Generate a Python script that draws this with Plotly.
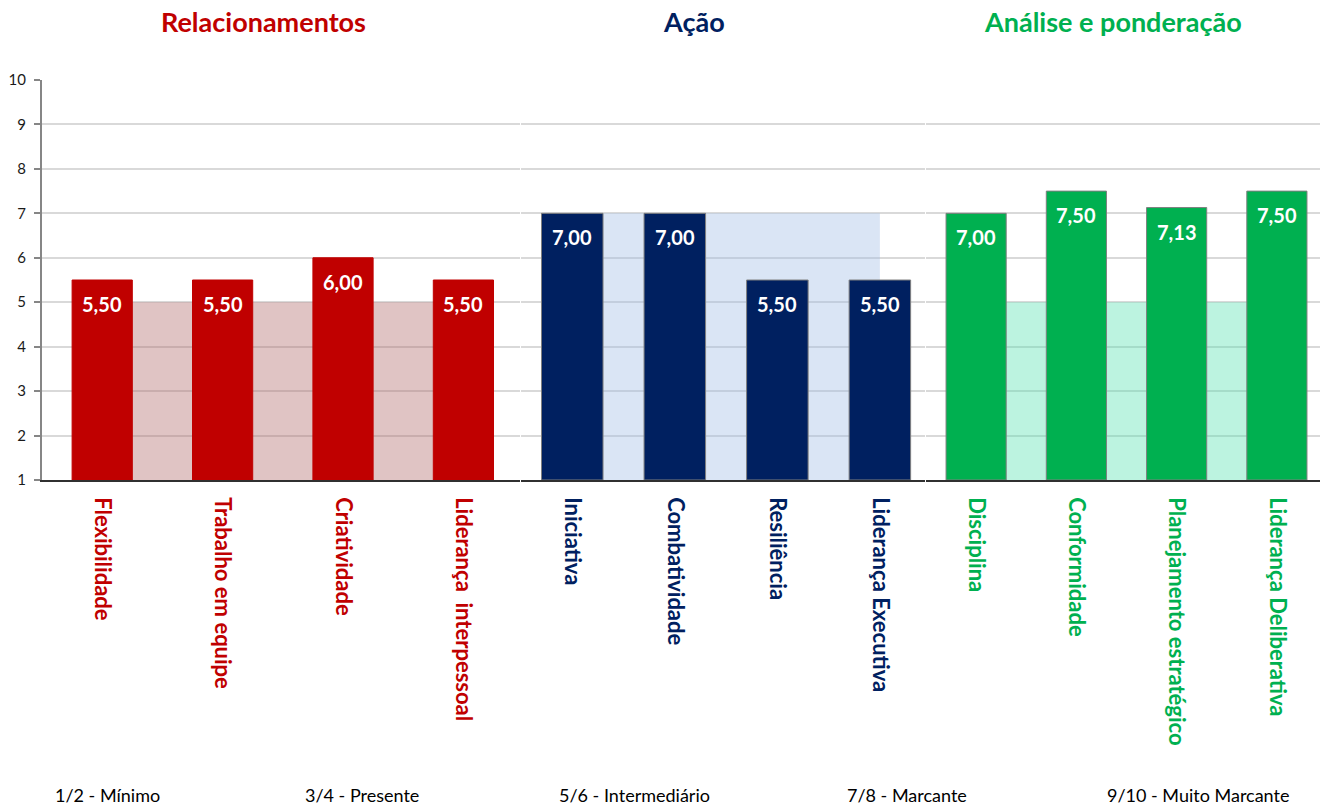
import plotly.graph_objects as go

# ---- data ----
groups = ["Relacionamentos", "Ação", "Análise e ponderação"]
cats_rel = ["Flexibilidade", "Trabalho em equipe", "Criatividade", "Liderança  interpessoal"]
cats_acao = ["Iniciativa", "Combatividade", "Resiliência", "Liderança Executiva"]
cats_anal = ["Disciplina", "Conformidade", "Planejamento estratégico", "Liderança Deliberativa"]
vals_rel = [5.50, 5.50, 6.00, 5.50]
vals_acao = [7.00, 7.00, 5.50, 5.50]
vals_anal = [7.00, 7.50, 7.13, 7.50]
ref_rel = [5, 5, 5, 5]
ref_acao = [7, 7, 7, 7]
ref_anal = [5, 5, 5, 5]
yticks = [1, 2, 3, 4, 5, 6, 7, 8, 9, 10]
scale_labels = ["1/2 - Mínimo", "3/4 - Presente", "5/6 - Intermediário", "7/8 - Marcante", "9/10 - Muito Marcante"]

# ---- style ----
W, H = 1329, 806
T, B = 80, 326
PH = H - T - B
FONT = "Lato"
colors = ["#C00000", "#002060", "#00B050"]
area_cols = ["rgba(178,108,108,0.4)", "rgba(162,190,230,0.4)", "rgba(88,225,178,0.4)"]
outline = ["#C00000", "#7F7F7F", "#7F7F7F"]
bar_w = [0.5, 0.6, 0.6]
dom_px = [(42, 520), (521, 925), (926, 1320)]
xranges = [[-0.5, 3.47], [-0.5, 3.44], [-0.5, 3.43]]
title_px = [263, 694, 1113]
scale_px = [53, 303, 557, 845, 1105]


def py(p):
    return (H - B - p) / PH


cats = [cats_rel, cats_acao, cats_anal]
vals = [vals_rel, vals_acao, vals_anal]
refs = [ref_rel, ref_acao, ref_anal]

fig = go.Figure()
annotations = []
layout = dict(
    width=W, height=H, margin=dict(l=0, r=0, t=T, b=B),
    plot_bgcolor="white", paper_bgcolor="white", showlegend=False,
    font=dict(family=FONT, color="#404040"),
)

for i in range(3):
    base = i + 1
    ov = i + 4
    bx = "x" if base == 1 else f"x{base}"
    by = "y" if base == 1 else f"y{base}"
    ox, oy = f"x{ov}", f"y{ov}"
    d0, d1 = dom_px[i][0] / W, dom_px[i][1] / W

    # background area (base subplot)
    fig.add_trace(go.Scatter(x=cats[i], y=refs[i], mode="lines", line=dict(width=0),
                             fill="tozeroy", fillcolor=area_cols[i], xaxis=bx, yaxis=by,
                             hoverinfo="skip"))
    # bars (overlay subplot)
    fig.add_trace(go.Bar(x=cats[i], y=[v - 1 for v in vals[i]], base=1, width=bar_w[i],
                         marker=dict(color=colors[i], line=dict(color=outline[i], width=1)),
                         xaxis=ox, yaxis=oy, hovertext=[f"{v:.2f}" for v in vals[i]]))

    layout[f"xaxis{'' if base == 1 else base}"] = dict(
        domain=[d0, d1], anchor=by, type="category", categoryorder="array",
        categoryarray=cats[i], range=xranges[i], showgrid=False,
        showline=True, linecolor="#303030", linewidth=1.5, ticks="",
        tickangle=90, ticklabelstandoff=11,
        tickfont=dict(family=FONT, size=22, color=colors[i], weight="bold"),
    )
    layout[f"yaxis{'' if base == 1 else base}"] = dict(
        anchor=bx, range=[1, 10], tickvals=yticks, showgrid=True,
        gridcolor="#D9D9D9", gridwidth=1.5, zeroline=False,
        showline=(i == 0), linecolor="#868686", linewidth=2,
        ticks="outside" if i == 0 else "", ticklen=6, tickcolor="#868686", tickwidth=1.5,
        ticklabelstandoff=5,
        showticklabels=(i == 0), tickfont=dict(family=FONT, size=15, color="#1a1a1a"),
    )
    layout[f"xaxis{ov}"] = dict(
        overlaying=bx, anchor=oy, type="category", categoryorder="array",
        categoryarray=cats[i], range=xranges[i], showgrid=False, showline=False,
        showticklabels=False, ticks="",
    )
    layout[f"yaxis{ov}"] = dict(
        overlaying=by, anchor=ox, range=[1, 10], showgrid=False, zeroline=False,
        showline=False, showticklabels=False, ticks="",
    )

    # value labels
    for c, v in zip(cats[i], vals[i]):
        annotations.append(dict(x=c, y=v, xref=ox, yref=oy, text=f"<b>{v:.2f}</b>".replace(".", ","),
                                showarrow=False, yanchor="middle", yshift=-24,
                                font=dict(family=FONT, size=20, color="white")))
    # group title
    annotations.append(dict(x=title_px[i] / W, y=py(22), xref="paper", yref="paper",
                            yanchor="middle", xanchor="center", showarrow=False,
                            text=f"<b>{groups[i]}</b>",
                            font=dict(family=FONT, size=27, color=colors[i])))

for lbl, px in zip(scale_labels, scale_px):
    annotations.append(dict(x=px / W, y=py(795), xref="paper", yref="paper",
                            xanchor="left", yanchor="middle", showarrow=False, text=lbl,
                            font=dict(family=FONT, size=18, color="#000000")))

layout["annotations"] = annotations
layout["barmode"] = "overlay"
fig.update_layout(**layout)
fig.write_html("out.html", config={"displayModeBar": False},
               post_script="document.body.style.margin='0';")
